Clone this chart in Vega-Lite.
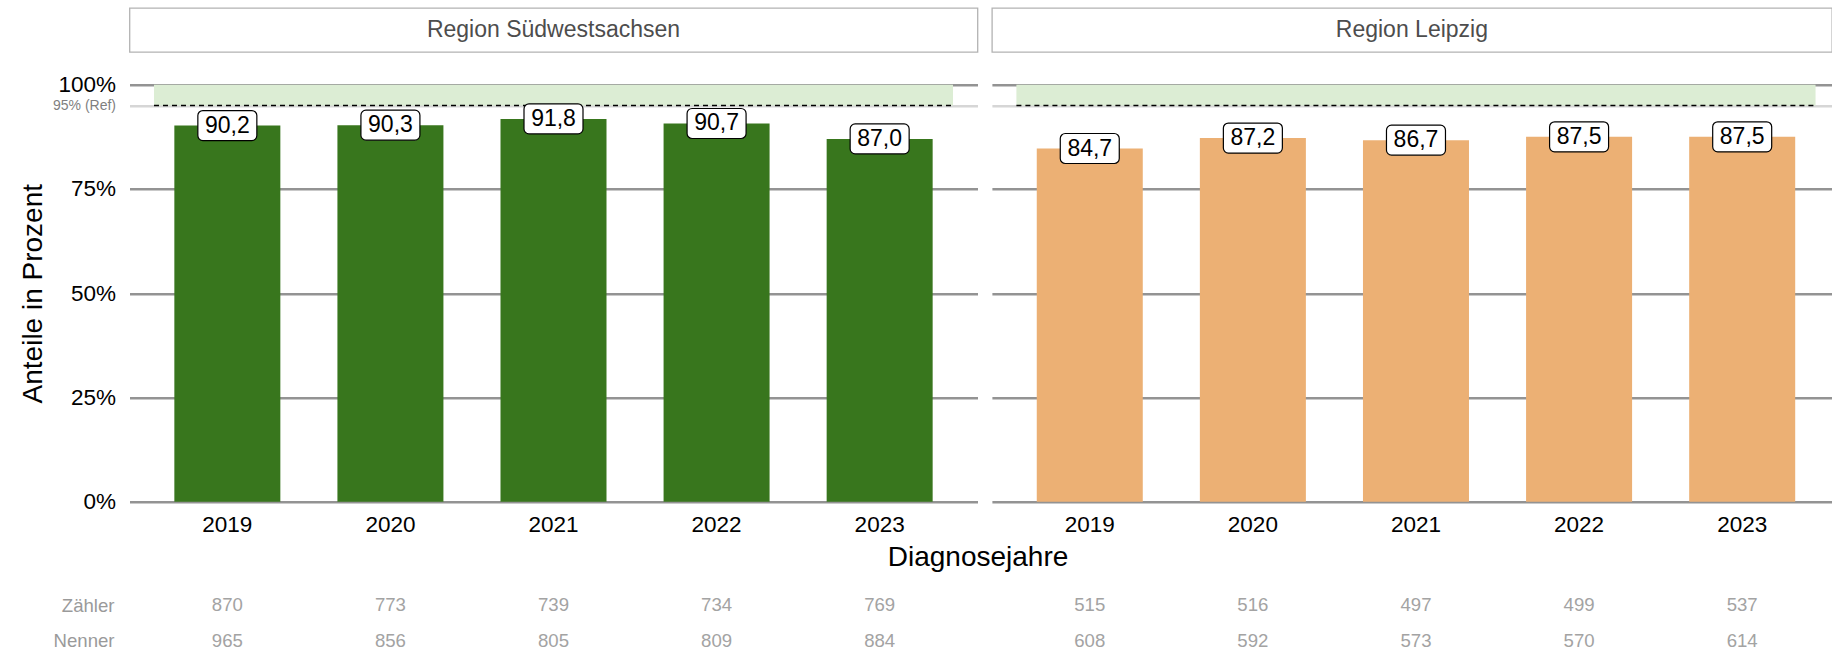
{
  "$schema": "https://vega.github.io/schema/vega-lite/v6.json",
  "padding": {"left": 19.5, "top": 7, "right": 0, "bottom": 0},
  "background": "white",
  "bounds": "flush",
  "columns": 2,
  "spacing": {"row": 32.7, "column": 14.4},
  "config": {
    "font": "Liberation Sans",
    "view": {"stroke": null},
    "locale": {"number": {"decimal": ",", "thousands": ".", "grouping": [3], "currency": ["", " €"]}},
    "axis": {"domain": false, "ticks": false}
  },
  "datasets": {
    "main": [
      {"region": "Region Südwestsachsen", "year": 2019, "value": 90.2, "Zähler": 870, "Nenner": 965},
      {"region": "Region Südwestsachsen", "year": 2020, "value": 90.3, "Zähler": 773, "Nenner": 856},
      {"region": "Region Südwestsachsen", "year": 2021, "value": 91.8, "Zähler": 739, "Nenner": 805},
      {"region": "Region Südwestsachsen", "year": 2022, "value": 90.7, "Zähler": 734, "Nenner": 809},
      {"region": "Region Südwestsachsen", "year": 2023, "value": 87.0, "Zähler": 769, "Nenner": 884},
      {"region": "Region Leipzig", "year": 2019, "value": 84.7, "Zähler": 515, "Nenner": 608},
      {"region": "Region Leipzig", "year": 2020, "value": 87.2, "Zähler": 516, "Nenner": 592},
      {"region": "Region Leipzig", "year": 2021, "value": 86.7, "Zähler": 497, "Nenner": 573},
      {"region": "Region Leipzig", "year": 2022, "value": 87.5, "Zähler": 499, "Nenner": 570},
      {"region": "Region Leipzig", "year": 2023, "value": 87.5, "Zähler": 537, "Nenner": 614}
    ]
  },
  "concat": [
    {
      "width": 848, "height": 44,
      "data": {"name": "main"},
      "transform": [{"filter": "datum.region == 'Region Südwestsachsen' && datum.year == 2019"}],
      "view": {"stroke": "#b3b3b3", "strokeWidth": 1.3},
      "mark": {"type": "text", "fontSize": 23, "color": "#4d4d4d"},
      "encoding": {"text": {"field": "region"}}
    },
    {
      "width": 840, "height": 44,
      "data": {"name": "main"},
      "transform": [{"filter": "datum.region == 'Region Leipzig' && datum.year == 2019"}],
      "view": {"stroke": "#b3b3b3", "strokeWidth": 1.3},
      "mark": {"type": "text", "fontSize": 23, "color": "#4d4d4d"},
      "encoding": {"text": {"field": "region"}}
    },
    {
      "width": 848, "height": 417,
      "data": {"name": "main"},
      "transform": [{"filter": "datum.region == 'Region Südwestsachsen'"}],
      "encoding": {
        "x": {"field": "year", "type": "ordinal", "scale": {"type": "band", "paddingInner": 0.35, "paddingOuter": 0.275},
          "axis": {"labelAngle": 0, "labelFontSize": 22.5, "labelColor": "black", "labelPadding": 12, "grid": false,
            "title": "Diagnosejahre", "titleFontSize": 28, "titleFontWeight": "normal", "titleColor": "black",
            "titleAnchor": "end", "titleAlign": "center", "titlePadding": 7}},
        "y": {"field": "value", "type": "quantitative", "scale": {"domain": [0, 100]},
          "axis": {"values": [0, 25, 50, 75, 95, 100],
            "labelExpr": "datum.value == 95 ? '95% (Ref)' : datum.value + '%'",
            "labelFontSize": {"condition": {"test": "datum.value == 95", "value": 14}, "value": 22.5},
            "labelColor": {"condition": {"test": "datum.value == 95", "value": "#7f7f7f"}, "value": "black"},
            "gridColor": {"condition": {"test": "datum.value == 95", "value": "#d6d6d6"}, "value": "#939393"},
            "gridWidth": 2.5, "grid": true, "labelPadding": 14, "labelOverlap": false,
            "title": "Anteile in Prozent", "titleFontSize": 28, "titleFontWeight": "normal", "titleColor": "black", "titlePadding": 4.5}}
      },
      "layer": [
        {
          "transform": [{"filter": "datum.year == 2019"}],
          "mark": {"type": "rect", "color": "#dcedd4"},
          "encoding": {
            "x": {"datum": 2019, "type": "ordinal", "bandPosition": -0.192},
            "x2": {"datum": 2023, "bandPosition": 1.192},
            "y": {"datum": 95, "type": "quantitative"},
            "y2": {"datum": 100}
          }
        },
        {
          "transform": [{"filter": "datum.year == 2019"}],
          "mark": {"type": "rule", "color": "black", "strokeDash": [5, 4], "strokeWidth": 1.5},
          "encoding": {
            "x": {"datum": 2019, "type": "ordinal", "bandPosition": -0.192},
            "x2": {"datum": 2023, "bandPosition": 1.192},
            "y": {"datum": 95, "type": "quantitative"}
          }
        },
        {"mark": {"type": "bar", "color": "#38761d"}},
        {"mark": {"type": "rect", "width": 59, "height": 30, "cornerRadius": 5, "fill": "white", "stroke": "black", "strokeWidth": 1.2}},
        {"mark": {"type": "text", "fontSize": 23, "color": "black"}, "encoding": {"text": {"field": "value", "type": "quantitative", "format": ".1f"}}}
      ]
    },
    {
      "width": 840, "height": 417,
      "data": {"name": "main"},
      "transform": [{"filter": "datum.region == 'Region Leipzig'"}],
      "encoding": {
        "x": {"field": "year", "type": "ordinal", "scale": {"type": "band", "paddingInner": 0.35, "paddingOuter": 0.25, "align": 0.55},
          "axis": {"labelAngle": 0, "labelFontSize": 22.5, "labelColor": "black", "labelPadding": 12, "grid": false, "title": null}},
        "y": {"field": "value", "type": "quantitative", "scale": {"domain": [0, 100]},
          "axis": {"values": [0, 25, 50, 75, 95, 100], "labels": false,
            "gridColor": {"condition": {"test": "datum.value == 95", "value": "#d6d6d6"}, "value": "#939393"},
            "gridWidth": 2.5, "grid": true, "title": null}}
      },
      "layer": [
        {
          "transform": [{"filter": "datum.year == 2019"}],
          "mark": {"type": "rect", "color": "#dcedd4"},
          "encoding": {
            "x": {"datum": 2019, "type": "ordinal", "bandPosition": -0.192},
            "x2": {"datum": 2023, "bandPosition": 1.192},
            "y": {"datum": 95, "type": "quantitative"},
            "y2": {"datum": 100}
          }
        },
        {
          "transform": [{"filter": "datum.year == 2019"}],
          "mark": {"type": "rule", "color": "black", "strokeDash": [5, 4], "strokeWidth": 1.5},
          "encoding": {
            "x": {"datum": 2019, "type": "ordinal", "bandPosition": -0.192},
            "x2": {"datum": 2023, "bandPosition": 1.192},
            "y": {"datum": 95, "type": "quantitative"}
          }
        },
        {"mark": {"type": "bar", "color": "#ecb074"}},
        {"mark": {"type": "rect", "width": 59, "height": 30, "cornerRadius": 5, "fill": "white", "stroke": "black", "strokeWidth": 1.2}},
        {"mark": {"type": "text", "fontSize": 23, "color": "black"}, "encoding": {"text": {"field": "value", "type": "quantitative", "format": ".1f"}}}
      ]
    },
    {
      "width": 848, "height": 106.3,
      "data": {"name": "main"},
      "transform": [{"filter": "datum.region == 'Region Südwestsachsen'"}, {"fold": ["Zähler", "Nenner"], "as": ["row", "n"]}],
      "mark": {"type": "text", "fontSize": 18.6, "color": "#a3a3a3"},
      "encoding": {
        "x": {"field": "year", "type": "ordinal", "scale": {"type": "band", "paddingInner": 0.35, "paddingOuter": 0.275}, "axis": null},
        "y": {"field": "row", "type": "nominal", "scale": {"type": "point", "domain": ["Zähler", "Nenner"], "padding": 1.161, "align": 1},
          "axis": {"labelFontSize": 18.6, "labelColor": "#9a9a9a", "labelPadding": 15.5, "title": null, "grid": false}},
        "text": {"field": "n", "type": "quantitative"}
      }
    },
    {
      "width": 840, "height": 106.3,
      "data": {"name": "main"},
      "transform": [{"filter": "datum.region == 'Region Leipzig'"}, {"fold": ["Zähler", "Nenner"], "as": ["row", "n"]}],
      "mark": {"type": "text", "fontSize": 18.6, "color": "#a3a3a3"},
      "encoding": {
        "x": {"field": "year", "type": "ordinal", "scale": {"type": "band", "paddingInner": 0.35, "paddingOuter": 0.25, "align": 0.55}, "axis": null},
        "y": {"field": "row", "type": "nominal", "scale": {"type": "point", "domain": ["Zähler", "Nenner"], "padding": 1.161, "align": 1}, "axis": null},
        "text": {"field": "n", "type": "quantitative"}
      }
    }
  ]
}
